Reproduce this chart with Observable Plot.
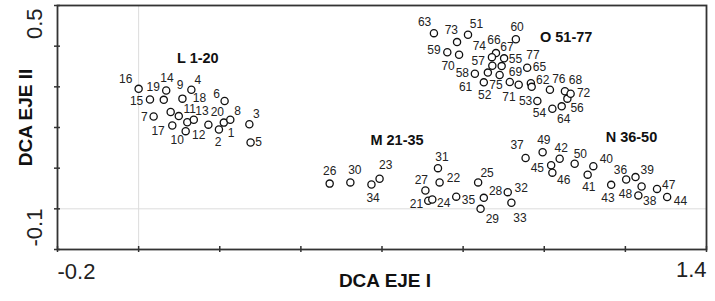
<!DOCTYPE html>
<html>
<head>
<meta charset="utf-8">
<script src="https://cdn.jsdelivr.net/npm/d3@7"></script>
<script src="https://cdn.jsdelivr.net/npm/@observablehq/plot@0.6"></script>
<style>
  html, body { margin: 0; padding: 0; background: #fff; }
  #chart svg { display: block; }
</style>
</head>
<body>
<div id="chart"></div>
<script>
const sampleIds = [1,2,3,4,5,6,7,8,9,10,11,12,13,14,15,16,17,18,19,20,
  21,22,23,24,25,26,27,28,29,30,31,32,33,34,35,
  36,37,38,39,40,41,42,43,44,45,46,47,48,49,50,
  51,52,53,54,55,56,57,58,59,60,61,62,63,64,65,66,67,68,69,70,71,72,73,74,75,76,77];

const axis1Scores = [0.210,0.198,0.273,0.130,0.276,0.212,0.037,0.226,0.079,0.116,
  0.099,0.120,0.136,0.068,0.028,0.000,0.083,0.108,0.062,0.172,
  0.714,0.742,0.594,0.724,0.837,0.471,0.707,0.851,0.843,0.522,
  0.738,0.910,0.919,0.574,0.783,
  1.202,0.954,1.232,1.225,1.121,1.107,1.038,1.165,1.303,1.017,
  1.020,1.278,1.240,0.996,1.075,
  0.812,0.851,0.983,1.020,0.895,1.057,0.872,0.829,0.761,0.930,
  0.861,0.967,0.728,1.043,0.958,0.881,0.901,1.051,0.915,0.790,
  0.937,1.065,0.785,0.871,0.890,1.014,0.969];

const axis2Scores = [0.212,0.195,0.208,0.293,0.163,0.265,0.227,0.219,0.238,0.191,
  0.228,0.213,0.219,0.291,0.269,0.295,0.205,0.271,0.268,0.207,
  0.020,0.065,0.074,0.023,0.065,0.062,0.045,0.027,0.000,0.065,
  0.100,0.041,0.015,0.060,0.030,
  0.072,0.125,0.033,0.078,0.105,0.084,0.123,0.059,0.029,0.107,
  0.089,0.049,0.055,0.139,0.111,
  0.428,0.311,0.265,0.246,0.351,0.271,0.352,0.332,0.385,0.417,
  0.335,0.309,0.432,0.252,0.347,0.383,0.370,0.289,0.312,0.379,
  0.305,0.283,0.410,0.373,0.329,0.293,0.300];

// where each sample number is written (data units)
const labelAxis1 = [0.228,0.196,0.290,0.146,0.296,0.192,0.014,0.244,0.102,0.095,
  0.126,0.148,0.156,0.070,-0.005,-0.032,0.048,0.150,0.036,0.194,
  0.685,0.776,0.609,0.752,0.859,0.471,0.697,0.880,0.872,0.533,
  0.748,0.943,0.940,0.578,0.813,
  1.188,0.933,1.260,1.254,1.153,1.110,1.042,1.157,1.336,0.983,
  1.048,1.307,1.200,0.999,1.089,
  0.833,0.853,0.954,0.988,0.929,1.081,0.837,0.798,0.728,0.933,
  0.806,0.996,0.705,1.048,0.988,0.876,0.908,1.077,0.929,0.763,
  0.913,1.097,0.771,0.840,0.881,1.036,0.972];

const labelAxis2 = [0.187,0.164,0.234,0.316,0.163,0.283,0.225,0.240,0.303,0.168,
  0.245,0.182,0.241,0.321,0.266,0.320,0.191,0.273,0.299,0.238,
  0.011,0.075,0.107,0.014,0.088,0.093,0.071,0.043,-0.026,0.096,
  0.127,0.051,-0.023,0.026,0.022,
  0.096,0.156,0.020,0.094,0.121,0.053,0.150,0.026,0.018,0.100,
  0.070,0.057,0.035,0.168,0.135,
  0.453,0.279,0.265,0.235,0.367,0.247,0.362,0.334,0.389,0.447,
  0.298,0.317,0.459,0.221,0.348,0.416,0.398,0.316,0.336,0.352,
  0.275,0.285,0.439,0.400,0.305,0.320,0.377];

const groupNames = ["L 1-20", "M 21-35", "N 36-50", "O 51-77"];
const groupAxis1 = [0.146, 0.637, 1.215, 1.054];
const groupAxis2 = [0.371, 0.168, 0.176, 0.422];

const xDomain = [-0.2, 1.4];
const yDomain = [-0.1, 0.5];
const xTicks = [-0.2, 0, 0.2, 0.4, 0.6, 0.8, 1.0, 1.2, 1.4];
const yTicks = [-0.1, 0, 0.1, 0.2, 0.3, 0.4, 0.5];
const xEndLabels = ["-0.2", "1.4"];
const yEndLabels = ["-0.1", "0.5"];
const xTitle = "DCA EJE I";
const yTitle = "DCA EJE II";

const samples = sampleIds.map((id, i) => ({
  id, x: axis1Scores[i], y: axis2Scores[i], lx: labelAxis1[i], ly: labelAxis2[i]
}));
const groups = groupNames.map((name, i) => ({name, x: groupAxis1[i], y: groupAxis2[i]}));

const ink = "#222";
const chart = Plot.plot({
  width: 715,
  height: 301,
  marginLeft: 57,
  marginRight: 9,
  marginTop: 5,
  marginBottom: 52,
  style: {fontFamily: "'Liberation Sans', Arial, sans-serif", background: "#fff", color: ink},
  x: {domain: xDomain, axis: null},
  y: {domain: yDomain, axis: null},
  marks: [
    Plot.ruleX([0], {stroke: "#dcdcdc", strokeWidth: 1}),
    Plot.ruleY([0], {stroke: "#dcdcdc", strokeWidth: 1}),
    Plot.frame({stroke: "#333", strokeWidth: 1.8}),
    Plot.ruleX(xTicks, {x: d => d, y1: () => yDomain[0], y2: () => yDomain[0], insetTop: -3, insetBottom: -3, stroke: "#333", strokeWidth: 1.5}),
    Plot.ruleY(yTicks, {y: d => d, x1: () => xDomain[0], x2: () => xDomain[0], insetLeft: -3, insetRight: -3, stroke: "#333", strokeWidth: 1.5}),
    Plot.text([xDomain[0]], {x: d => d, frameAnchor: "bottom", text: () => xEndLabels[0], textAnchor: "start", lineAnchor: "middle", dy: 22.5, fontSize: 22, fill: ink}),
    Plot.text([xDomain[1]], {x: d => d, frameAnchor: "bottom", text: () => xEndLabels[1], textAnchor: "end", lineAnchor: "middle", dy: 20, fontSize: 22, fill: ink}),
    Plot.text([yDomain[0]], {y: d => d, frameAnchor: "left", text: () => yEndLabels[0], rotate: -90, textAnchor: "start", lineAnchor: "middle", dx: -23, dy: -3, fontSize: 22, fill: ink}),
    Plot.text([yDomain[1]], {y: d => d, frameAnchor: "left", text: () => yEndLabels[1], rotate: -90, textAnchor: "end", lineAnchor: "middle", dx: -23, dy: 3, fontSize: 22, fill: ink}),
    Plot.text([xTitle], {frameAnchor: "bottom", text: d => d, textAnchor: "middle", lineAnchor: "middle", dx: 3, dy: 31, fontSize: 19, fontWeight: "bold", fill: "#111"}),
    Plot.text([yTitle], {frameAnchor: "left", text: d => d, rotate: -90, textAnchor: "middle", lineAnchor: "middle", dx: -32, dy: -10, fontSize: 19, fontWeight: "bold", fill: "#111"}),
    Plot.dot(samples, {x: "x", y: "y", r: 3.6, stroke: "#111", strokeWidth: 1.3, fill: "white"}),
    Plot.text(samples, {x: "lx", y: "ly", text: "id", fontSize: 12, fill: ink}),
    Plot.text(groups, {x: "x", y: "y", text: "name", fontSize: 14.5, fontWeight: "bold", fill: "#111"})
  ]
});
document.getElementById("chart").appendChild(chart);
</script>
</body>
</html>
